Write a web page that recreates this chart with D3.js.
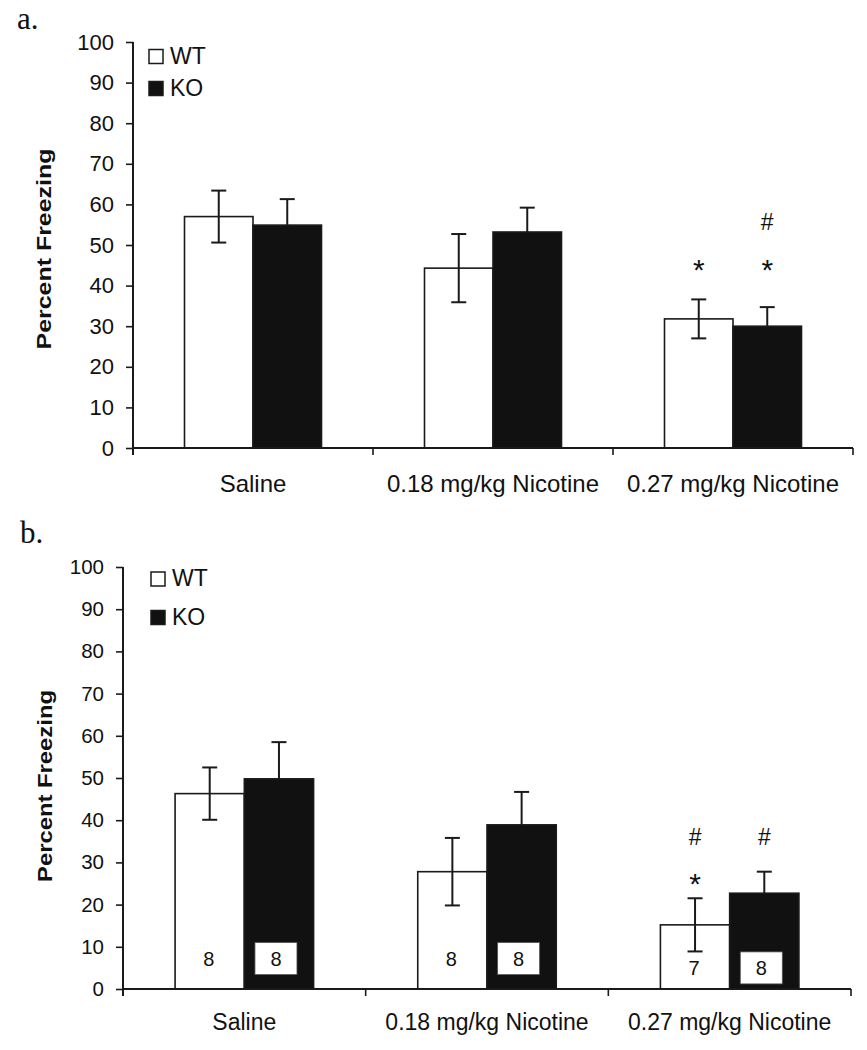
<!DOCTYPE html>
<html>
<head>
<meta charset="utf-8">
<script src="https://cdn.jsdelivr.net/npm/d3@7"></script>
<style>
  html, body { margin: 0; padding: 0; background: #fff; }
  svg { display: block; }
  text { fill: #111; }
</style>
</head>
<body>
<svg id="chart" width="867" height="1050"></svg>
<script>
// ---------- data ----------
const categories = ["Saline", "0.18 mg/kg Nicotine", "0.27 mg/kg Nicotine"];
const groups = ["WT", "KO"];
const yTicks = [0, 10, 20, 30, 40, 50, 60, 70, 80, 90, 100];

// Panel a
const aWT = [57.0, 44.3, 31.8];
const aWTErr = [6.4, 8.4, 4.8];
const aKO = [54.9, 53.2, 30.0];
const aKOErr = [6.4, 6.0, 4.7];
const aMarks = [
  { cat: 2, group: "WT", marks: ["*"] },
  { cat: 2, group: "KO", marks: ["*", "#"] }
];

// Panel b
const bWT = [46.3, 27.8, 15.2];
const bWTErr = [6.2, 8.0, 6.3];
const bKO = [49.8, 38.9, 22.7];
const bKOErr = [8.7, 7.8, 5.1];
const bWTn = [8, 8, 7];
const bKOn = [8, 8, 8];
const bMarks = [
  { cat: 2, group: "WT", marks: ["*", "#"] },
  { cat: 2, group: "KO", marks: ["#"] }
];

// ---------- drawing ----------
const SANS = "'Liberation Sans', Arial, Helvetica, sans-serif";
const SERIF = "'Liberation Serif', 'Times New Roman', serif";
const svg = d3.select("#chart");

function drawPanel(cfg) {
  const g = svg.append("g").style("font-family", SANS);
  const x0 = d3.scaleBand().domain(categories).range([cfg.left, cfg.right]).padding(0);
  const x1 = d3.scaleBand().domain(groups).range([0, x0.bandwidth()])
      .paddingInner(0).paddingOuter(0.752);
  const y = d3.scaleLinear().domain([0, 100]).range([cfg.bottom, cfg.top]);

  const rows = categories.map((c, i) => ({
    cat: c, i,
    vals: [
      { group: "WT", v: cfg.wt[i], e: cfg.wtErr[i], n: cfg.wtN ? cfg.wtN[i] : null },
      { group: "KO", v: cfg.ko[i], e: cfg.koErr[i], n: cfg.koN ? cfg.koN[i] : null }
    ]
  }));

  // bars
  const cg = g.selectAll(".cat").data(rows).join("g")
      .attr("transform", d => `translate(${x0(d.cat)},0)`);

  cg.selectAll("rect.bar").data(d => d.vals).join("rect")
      .attr("class", "bar")
      .attr("x", d => x1(d.group))
      .attr("width", x1.bandwidth())
      .attr("y", d => y(d.v))
      .attr("height", d => y(0) - y(d.v))
      .attr("fill", d => d.group === "WT" ? "#fff" : "#111")
      .attr("stroke", "#1a1a1a")
      .attr("stroke-width", 1.6);

  // error bars
  const eb = cg.selectAll("g.err").data(d => d.vals).join("g").attr("class", "err");
  const capW = 7.5;
  eb.append("line")
      .attr("x1", d => x1(d.group) + x1.bandwidth() / 2)
      .attr("x2", d => x1(d.group) + x1.bandwidth() / 2)
      .attr("y1", d => y(d.v + d.e))
      .attr("y2", d => d.group === "WT" ? y(d.v - d.e) : y(d.v))
      .attr("stroke", "#1a1a1a").attr("stroke-width", 2);
  eb.append("line")
      .attr("x1", d => x1(d.group) + x1.bandwidth() / 2 - capW)
      .attr("x2", d => x1(d.group) + x1.bandwidth() / 2 + capW)
      .attr("y1", d => y(d.v + d.e)).attr("y2", d => y(d.v + d.e))
      .attr("stroke", "#1a1a1a").attr("stroke-width", 2);
  eb.filter(d => d.group === "WT").append("line")
      .attr("x1", d => x1(d.group) + x1.bandwidth() / 2 - capW)
      .attr("x2", d => x1(d.group) + x1.bandwidth() / 2 + capW)
      .attr("y1", d => y(d.v - d.e)).attr("y2", d => y(d.v - d.e))
      .attr("stroke", "#1a1a1a").attr("stroke-width", 2);

  // n labels
  if (cfg.wtN) {
    cg.each(function(d) {
      const sel = d3.select(this);
      const ly = y(cfg.nLevel[d.i]);
      d.vals.forEach(v => {
        const cx = x1(v.group) + x1.bandwidth() / 2;
        if (v.group === "KO") {
          sel.append("rect")
            .attr("x", cx - 24).attr("y", ly - 16)
            .attr("width", 42).attr("height", 32)
            .attr("fill", "#fff").attr("stroke", "#555").attr("stroke-width", 0.8);
          sel.append("text").attr("x", cx - 3).attr("y", ly + 7.5)
            .attr("text-anchor", "middle").style("font-size", "20px").text(v.n);
        } else {
          sel.append("text").attr("x", cx - 1).attr("y", ly + 7.5)
            .attr("text-anchor", "middle").style("font-size", "20px").text(v.n);
        }
      });
    });
  }

  // significance marks (level = vertical centre of the glyph, in data units)
  cfg.marks.forEach(m => {
    const cx = x0(categories[m.cat]) + x1(m.group) + x1.bandwidth() / 2;
    m.marks.forEach(s => {
      const fs = s === "*" ? 30 : 23;
      const off = s === "*" ? 0.575 * fs : 0.36 * fs;
      g.append("text")
        .attr("x", cx).attr("y", y(cfg.markLevel[s]) + off)
        .attr("text-anchor", "middle")
        .style("font-size", fs + "px")
        .text(s);
    });
  });

  // y axis
  const yAxis = d3.axisLeft(y).tickValues(yTicks).tickSize(7).tickPadding(12)
      .tickFormat(d3.format("d"));
  const ya = g.append("g").attr("transform", `translate(${cfg.left},0)`).call(yAxis);
  ya.select(".domain").attr("d", `M0,${cfg.top}V${cfg.bottom + 7}`)
      .attr("stroke", "#1a1a1a").attr("stroke-width", 2);
  ya.selectAll(".tick line").attr("stroke", "#1a1a1a").attr("stroke-width", 1.6);
  ya.attr("font-family", null).attr("font-size", null);
  ya.selectAll(".tick text").style("font-size", cfg.tickFont + "px")
      .style("font-family", SANS).attr("fill", "#111");

  // x axis
  const xa = g.append("g").attr("transform", `translate(0,${cfg.bottom})`);
  xa.append("line").attr("x1", cfg.left).attr("x2", cfg.right)
      .attr("y1", 0).attr("y2", 0)
      .attr("stroke", "#1a1a1a").attr("stroke-width", 2);
  const bounds = categories.slice(1).map(c => x0(c)).concat([x0(categories[2]) + x0.bandwidth()]);
  xa.selectAll("line.xt").data(bounds).join("line").attr("class", "xt")
      .attr("x1", d => d).attr("x2", d => d).attr("y1", 0).attr("y2", 7)
      .attr("stroke", "#1a1a1a").attr("stroke-width", 1.6);
  xa.selectAll("text.xl").data(categories).join("text").attr("class", "xl")
      .attr("x", d => x0(d) + x0.bandwidth() / 2)
      .attr("y", cfg.catLabelY - cfg.bottom)
      .attr("text-anchor", "middle")
      .style("font-size", cfg.catFont + "px")
      .text(d => d);

  // y label
  g.append("text")
      .attr("transform", `translate(${cfg.yLabelX},${cfg.yLabelY}) rotate(-90)`)
      .attr("text-anchor", "middle")
      .style("font-weight", "bold")
      .style("font-size", "20px")
      .attr("textLength", cfg.yLabelLen)
      .attr("lengthAdjust", "spacingAndGlyphs")
      .text("Percent Freezing");

  // legend
  groups.forEach((gr, i) => {
    const ly = cfg.legendY + i * cfg.legendStep;
    g.append("rect")
      .attr("x", cfg.legendX).attr("y", ly)
      .attr("width", 14).attr("height", 14)
      .attr("fill", gr === "WT" ? "#fff" : "#111")
      .attr("stroke", "#1a1a1a").attr("stroke-width", 1.5);
    g.append("text")
      .attr("x", cfg.legendX + 21).attr("y", ly + 14)
      .style("font-size", "23px")
      .text(gr);
  });

  // panel label
  g.append("text")
    .attr("x", cfg.panelX).attr("y", cfg.panelY)
    .style("font-family", SERIF)
    .style("font-size", "31px")
    .text(cfg.panel);
}

drawPanel({
  panel: "a.", panelX: 17, panelY: 28.5,
  left: 133, right: 853, top: 42, bottom: 448,
  wt: aWT, wtErr: aWTErr, ko: aKO, koErr: aKOErr,
  marks: aMarks, markLevel: { "*": 45.7, "#": 55.7 },
  tickFont: 22, catFont: 24, catLabelY: 492,
  yLabelX: 51, yLabelY: 249, yLabelLen: 201,
  legendX: 149, legendY: 49.5, legendStep: 32
});

drawPanel({
  panel: "b.", panelX: 20, panelY: 543,
  left: 123, right: 851, top: 567, bottom: 989,
  wt: bWT, wtErr: bWTErr, ko: bKO, koErr: bKOErr,
  wtN: bWTn, koN: bKOn, nLevel: [7.2, 7.2, 5.0],
  marks: bMarks, markLevel: { "*": 26.6, "#": 36.1 },
  tickFont: 20.5, catFont: 23, catLabelY: 1030,
  yLabelX: 52, yLabelY: 786, yLabelLen: 192,
  legendX: 151, legendY: 572, legendStep: 38.5
});
</script>
</body>
</html>
